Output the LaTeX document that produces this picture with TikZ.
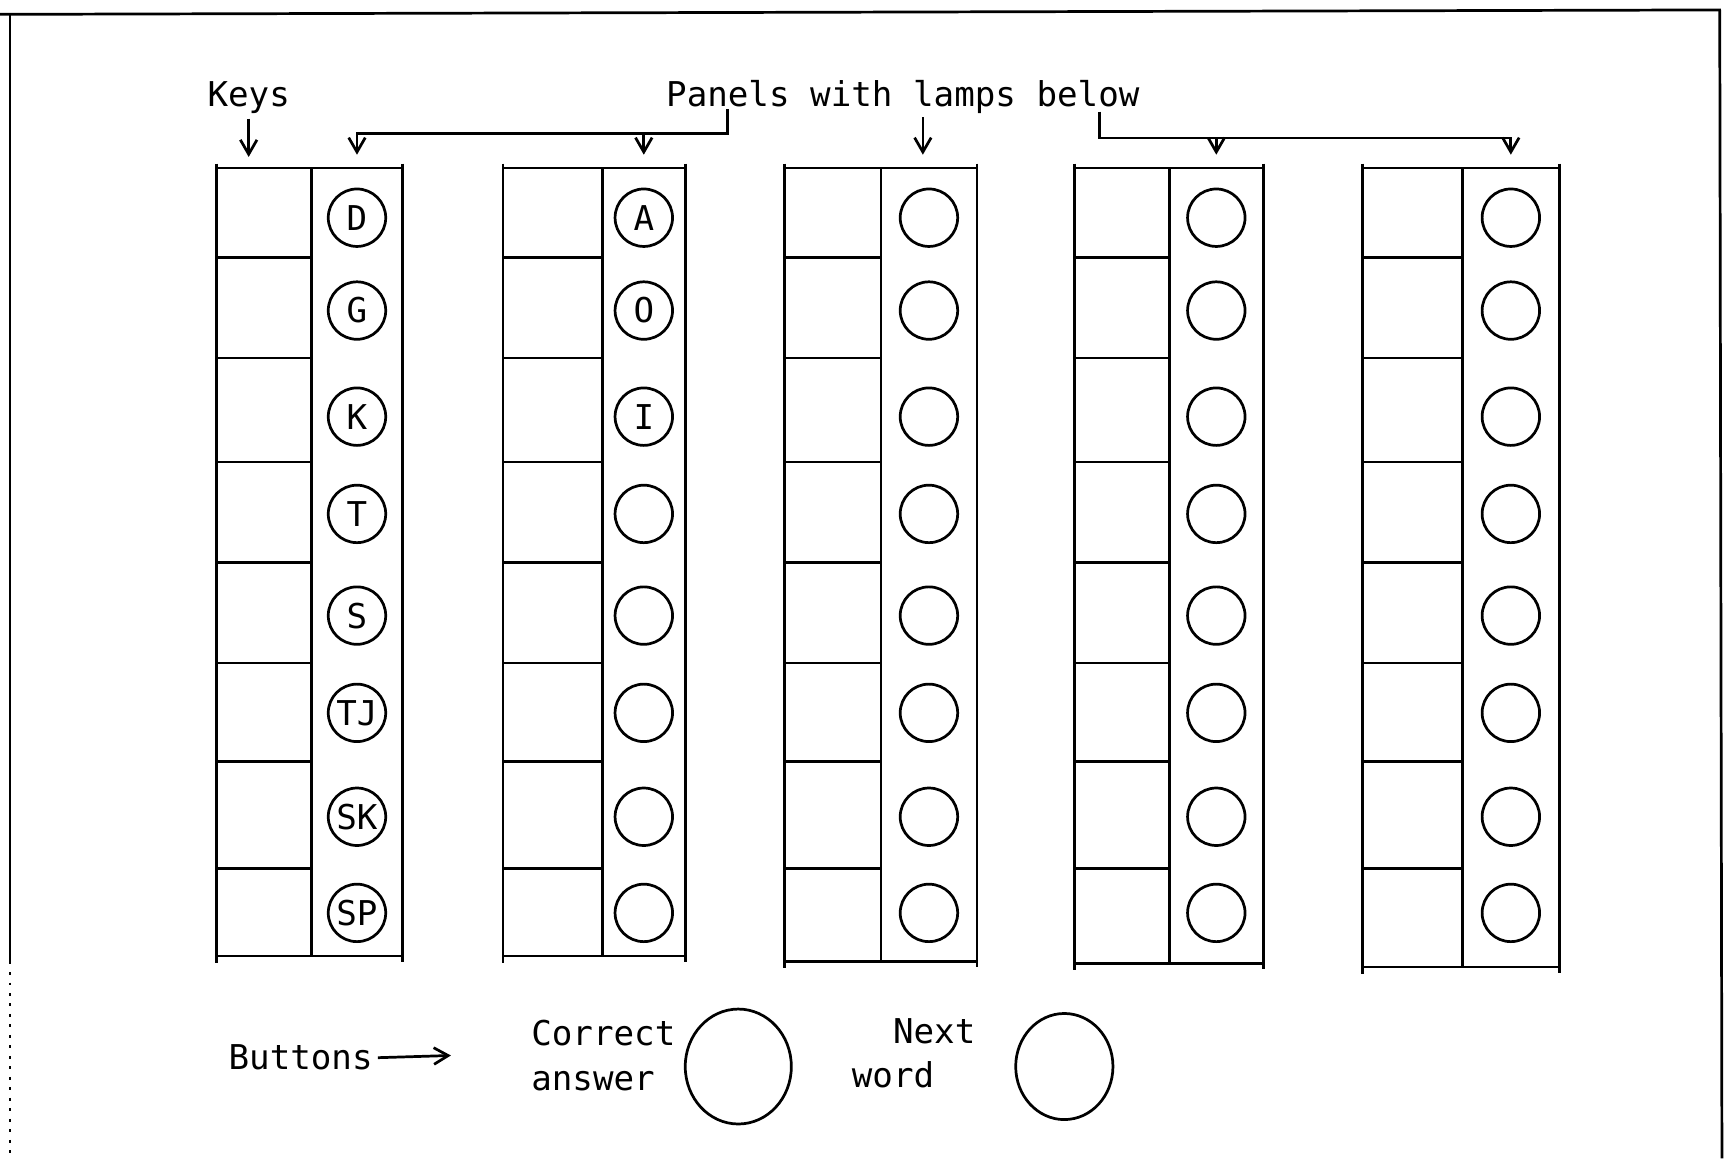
\documentclass[tikz,border=0pt]{standalone}
\usepackage{fontspec}
\newfontfamily\plotfont{DejaVu Sans Mono}
\usetikzlibrary{arrows.meta,positioning,calc,shapes.geometric}

\begin{document}
\begin{tikzpicture}[x=0.1mm, y=-0.1mm, line width=0.7pt,
    every node/.style={font=\plotfont\fontsize{8.8}{11.5}\selectfont, inner sep=1pt},
    pointer/.style={-{Straight Barb[length=1.3mm,width=1.5mm]}},
    lamp/.style={circle, draw, minimum size=5.2mm, inner sep=0pt},
    button/.style={ellipse, draw, minimum width=9.6mm, minimum height=10.4mm}]
  \useasboundingbox (0,0) rectangle (1568,1048);

  % frame of the sheet
  \draw (0,13) -- (1557,9);
  \draw (9,13) -- (9,870);
  \draw[dotted] (9,870) -- (9,1048);
  \draw (1556,9) -- (1558,1048);

  % the five panels: keys on the left, lamps on the right
  \foreach \p/\l/\m/\r/\b in {1/196/282/364/865, 2/455/545/620/865, 3/710/797/884/870, 4/972/1058/1143/872, 5/1233/1323/1411/875} {
    \draw (\l,152) -- (\r,152);
    \draw (\l,\b) -- (\r,\b);
    \draw (\l,148) -- (\l,\b+6);
    \draw (\m,152) -- (\m,\b);
    \draw (\r,148) -- (\r,\b+5);
    \foreach \y in {233,324,418,509,600,689,786}
      \draw (\l,\y) -- (\m,\y);
    \foreach \y [count=\i] in {197,281,377,465,557,645,739,826}
      \node[lamp] (lamp\p-\i) at ({(\m+\r)/2},\y) {};
    \coordinate (aim\p) at ({(\m+\r)/2},140);
    \coordinate (keyaim\p) at ({(\l+\m)/2-14},142);
  }

  % letters on the lamps
  \foreach \t [count=\i] in {D,G,K,T,S,TJ,SK,SP}
    \node (let1-\i) at (lamp1-\i) {\t};
  \foreach \t [count=\i] in {A,O,I}
    \node (let2-\i) at (lamp2-\i) {\t};

  % labels at the top
  \node (keys) at (225,88) {Keys};
  \node[anchor=west] (panels) at (598,88) {Panels with lamps below};
  \draw[pointer] (keys.south) -- (keyaim1);

  \coordinate (stemA) at (658,99);
  \coordinate (barA) at (658,121);
  \draw[pointer] (stemA) |- (aim1 |- barA) -- (aim1);
  \draw[pointer] (aim2 |- barA) -- (aim2);

  \coordinate (stemC) at (835,106);
  \draw[pointer] (stemC) -- (stemC |- aim3);

  \coordinate (stemB) at (995,101);
  \coordinate (barB) at (995,125);
  \draw[pointer] (stemB) |- (aim5 |- barB) -- (aim5);
  \draw[pointer] (aim4 |- barB) -- (aim4);

  % buttons
  \node (buttons) at (272,957) {Buttons};
  \coordinate (btnaim) at (408,955);
  \draw[pointer] (buttons.east) -- (btnaim);

  \node[anchor=west, align=left] (correcttxt) at (476,955) {Correct\\answer};
  \node[button] (correct) at (668,965) {};

  \node[anchor=west, align=left] (nexttxt) at (766,953) {\phantom{wo}Next\\word};
  \node[button, minimum width=8.8mm, minimum height=9.6mm] (next) at (963,965) {};
\end{tikzpicture}
\end{document}
